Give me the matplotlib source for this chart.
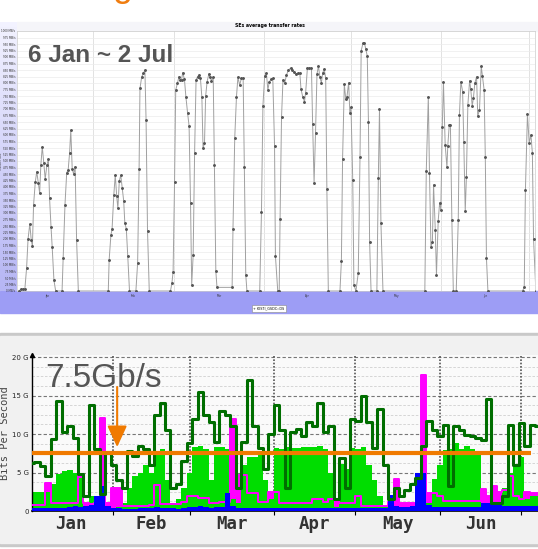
import numpy as np
import matplotlib.pyplot as plt
from matplotlib.patches import Rectangle
from matplotlib.colors import LinearSegmentedColormap

# ── top chart: SE average transfer rate (MB/s) vs day of year ────────────────
se_day = [5.7, 6.3, 7.0, 7.7, 8.3, 8.8, 9.4, 9.9, 10.3, 10.7, 11.3, 11.8, 12.3, 12.8, 13.2, 13.7,
          14.2, 14.7, 15.3, 15.8, 16.2, 16.7, 17.1, 17.7, 18.3, 20.5, 20.9, 21.5, 22.1, 22.6,
          23.1, 23.5, 24.0, 24.5, 25.0, 25.5, 26.1,
          36.4, 36.7, 37.3, 37.7, 38.3, 38.8, 39.3, 39.7, 40.2, 40.7, 41.2, 41.7, 42.1, 42.6, 43.1, 43.7,
          45.9, 46.5, 47.0, 47.3, 47.9, 48.5, 49.0, 49.4, 49.9, 50.5,
          57.8, 58.3, 58.7, 59.2, 59.6, 60.2, 60.7, 61.1, 61.6, 62.0, 62.6, 63.1, 63.7, 64.2, 64.7,
          65.1, 65.6, 66.1, 66.6, 67.1, 67.6, 68.1, 68.6, 69.0, 69.5, 69.9, 70.4, 71.0, 71.4, 71.9,
          72.5, 72.9, 73.4, 73.8, 79.0, 79.3, 79.9, 80.5, 81.0, 81.6, 82.2, 82.8, 83.2, 83.7, 84.1,
          88.5, 89.1, 89.6, 90.2, 90.8, 91.3, 91.8, 92.4, 93.0, 93.6, 93.9, 94.7, 95.2,
          95.5, 96.0, 96.5, 97.1, 97.7, 98.4, 99.1, 99.7, 100.4, 101.0,
          101.7, 102.3, 102.7, 103.3, 103.9, 104.3, 104.9, 105.6, 106.3, 106.7,
          107.2, 107.7, 108.2, 108.7, 109.2, 109.7, 110.2, 110.7, 111.2, 111.6, 112.1,
          116.1, 116.6, 117.0, 117.6, 118.1, 118.5, 119.1, 119.5, 119.9, 120.5, 120.9, 121.6,
          122.4, 123.0, 123.4, 124.0, 124.5, 125.0, 125.5, 125.9, 126.3, 126.8,
          128.8, 129.3, 129.7, 130.2, 130.9,
          145.3, 145.8, 146.5, 146.9, 147.4, 147.9, 148.3, 148.9, 149.3, 149.9,
          150.4, 150.8, 151.3, 151.7, 152.3, 152.9, 153.2, 153.7, 154.1, 154.6,
          155.1, 156.1, 156.8, 157.2, 157.7, 158.3, 158.7, 159.2, 159.6, 160.1,
          160.7, 161.1, 161.6, 162.0, 162.5, 163.1, 163.5, 164.1, 164.7, 165.1,
          165.7, 166.1, 166.5, 167.0,
          178.9, 179.5, 179.9, 180.6, 181.2, 181.8, 182.3, 182.7, 183.5]
se_rate = [0, 7, 7, 7, 88, 200, 258, 196, 173, 331, 420, 459, 417, 377, 485, 555, 493, 431, 485, 507,
           358, 247, 170, 42, 0, 0, 128, 331, 455, 465, 532, 619, 468, 450, 478, 196, 0,
           0, 119, 215, 237, 369, 446, 365, 318, 424, 445, 395, 347, 260, 240, 135, 0,
           0, 108, 468, 779, 824, 837, 850, 658, 232, 0,
           0, 31, 74, 420, 773, 799, 824, 812, 812, 840, 814, 747, 683, 635, 337, 23, 138, 532, 812, 824,
           831, 818, 745, 549, 568, 750, 805, 835, 822, 809, 822, 485, 76, 14,
           14, 238, 587, 747, 822, 792, 818, 818, 478, 62, 0,
           0, 305, 712, 827, 837, 773, 805, 814, 818, 558, 135, 0, 0,
           276, 668, 812, 799, 831, 850, 857, 850, 843, 835,
           838, 837, 776, 747, 728, 763, 857, 857, 857, 642,
           417, 609, 835, 865, 822, 801, 840, 853, 818, 391, 0,
           0, 117, 507, 796, 737, 747, 801, 686, 706, 427, 23, 0,
           70, 517, 924, 952, 955, 930, 904, 651, 190, 0,
           0, 433, 699, 260, 0,
           0, 463, 747, 455, 170, 188, 409, 235, 62, 270,
           340, 312, 632, 805, 562, 476, 559, 638, 638, 273,
           0, 0, 273, 677, 805, 767, 574, 306, 437, 715,
           809, 776, 712, 741, 799, 824, 673, 696, 865, 827,
           773, 517, 126, 0,
           0, 14, 388, 681, 570, 600, 530, 199, 0]
se_ticks = list(range(0, 1001, 25))

# ── bottom chart: network traffic (Gb/s), one value per 2 days ───────────────
days = list(range(1, 188, 2))
peak = [6.2, 6.3, 5.9, 4.6, 9.3, 14.3, 10.2, 11.0, 9.5, 4.8, 2.0, 13.8, 8.0, 2.2, 7.5, 6.0,
        4.0, 3.0, 7.8, 7.2, 8.5, 8.0, 6.0, 12.5, 14.0, 10.5, 3.0, 3.5, 6.5, 8.8, 12.0, 15.5,
        12.5, 11.5, 9.0, 13.0, 12.5, 11.0, 3.0, 9.0, 17.0, 11.0, 8.2, 5.5,
        10.0, 13.8, 10.5, 3.0, 10.3, 10.6, 9.8, 11.6, 11.0, 14.0, 10.3, 11.0, 1.6, 6.9, 3.0, 12.0,
        11.7, 15.0, 11.5, 8.2, 13.2, 6.0, 1.6, 3.0, 2.0, 2.7, 3.5, 4.3, 8.5, 11.7, 10.5, 9.7,
        11.2, 3.2, 11.0, 10.5, 9.9, 9.7, 9.5, 9.2, 14.6, 1.0, 1.0, 2.0, 11.2, 6.0, 11.4, 8.4,
        11.2, 11.0]
avg = [2.5, 2.5, 2.5, 2.5, 3.5, 4.8, 5.2, 5.3, 5.0, 4.3, 0.3, 2.0, 0.5, 0.3, 0.5, 0.3,
       0.5, 1.0, 3.0, 4.5, 5.0, 6.0, 5.0, 7.5, 8.0, 4.0, 1.0, 1.5, 3.0, 5.0, 8.3, 8.5,
       8.0, 4.0, 8.3, 8.3, 8.0, 1.5, 1.0, 6.0, 7.0, 7.0, 7.5, 4.0,
       1.5, 8.2, 8.0, 8.3, 8.2, 8.2, 8.3, 8.3, 8.3, 8.5, 8.0, 5.0, 0.5, 6.1, 5.5, 8.2,
       8.0, 8.3, 6.0, 4.0, 2.0, 0.5, 0.2, 0.2, 0.2, 0.2, 0.2, 0.2, 2.0, 1.0, 4.2, 6.0,
       7.9, 8.0, 8.8, 8.0, 8.5, 8.0, 7.5, 0.3, 0.3, 0.3, 0.3, 3.0, 5.0, 6.0, 7.0, 1.5,
       2.0, 2.0]
other = [0.8, 0.8, 0.8, 3.6, 1.0, 1.0, 1.0, 1.0, 1.0, 4.7, 1.0, 0.9, 1.0, 12.1, 1.0, 3.0,
         3.0, 0.6, 0.6, 0.6, 0.6, 0.6, 0.8, 3.4, 0.9, 0.9, 0.9, 0.9, 1.2, 1.9, 1.9, 1.7,
         1.7, 1.0, 1.0, 1.2, 1.2, 11.9, 4.7, 4.7, 2.3, 2.3, 1.2, 1.2,
         2.5, 2.5, 1.0, 1.0, 1.0, 1.0, 1.0, 1.0, 1.6, 1.6, 1.2, 1.6, 1.6, 1.0, 1.0, 1.0,
         1.9, 0.6, 0.6, 0.6, 0.6, 0.6, 1.2, 4.2, 1.0, 1.0, 1.0, 1.0, 17.7, 2.3, 2.3, 2.0,
         1.3, 1.3, 1.3, 1.3, 1.3, 1.3, 1.3, 2.9, 2.0, 3.2, 2.5, 2.7, 4.5, 2.0, 1.5, 2.5,
         2.3, 2.3]
blue = [0.4, 0.4, 0.4, 0.4, 0.4, 0.4, 0.4, 0.5, 0.6, 0.5, 0.6, 0.8, 2.0, 3.2, 0.6, 0.4,
        0.4, 0.3, 0.3, 0.3, 0.4, 0.4, 0.4, 0.5, 0.4, 0.4, 0.4, 0.3, 0.4, 0.5, 0.5, 0.6,
        0.5, 0.4, 0.5, 0.5, 2.3, 0.6, 0.4, 0.4, 0.4, 0.4, 0.4, 0.4,
        0.4, 0.4, 0.4, 0.4, 0.4, 0.4, 0.4, 0.4, 0.4, 0.4, 0.4, 0.4, 0.4, 0.4, 0.4, 0.4,
        0.4, 0.4, 0.4, 0.4, 0.4, 0.4, 2.1, 0.6, 0.5, 0.5, 0.6, 5.0, 5.0, 0.8, 0.5, 0.5,
        0.5, 0.5, 0.5, 0.5, 0.5, 0.5, 0.5, 1.0, 1.0, 1.0, 1.0, 0.6, 0.6, 0.6, 0.6, 0.6,
        0.6, 0.6]

months = ['Jan', 'Feb', 'Mar', 'Apr', 'May', 'Jun']
month_start = [31, 59, 90, 120, 151, 181]
month_mid = [15.5, 45, 74.5, 105, 135.5, 166]
gbps_ticks = [0, 5, 10, 15, 20]
gbps_labels = ['0', '5 G', '10 G', '15 G', '20 G']
capacity = 7.5

W, H = 538, 549
fig = plt.figure(figsize=(W / 100, H / 100), dpi=100)


def fx(px):
    return px / W


def fy(py):
    return 1 - py / H


def backdrop(x0, y0, x1, y1, color):
    # panel background in pixel coords, drawn underneath every axes
    fig.patches.append(Rectangle((fx(x0), fy(y1)), fx(x1 - x0), (y1 - y0) / H,
                                 transform=fig.transFigure, color=color, zorder=-5))


# orange title descender peeking in at the very top
fig.text(fx(122), fy(-4.5), 'g', fontsize=26, color='#f07d10',
         ha='center', va='baseline', family='Liberation Sans')

# ── top panel ─────────────────────────────────────────────────────────────────
backdrop(17, 22, 538, 31, '#f5f5f9')
backdrop(0, 291, 538, 313, '#9d9df5')
ax_bg = fig.add_axes([0, fy(291), fx(17), (291 - 22) / H], zorder=-4)
grad = LinearSegmentedColormap.from_list('lav', ['#f2f2ff', '#b6b6f4'])
ax_bg.imshow(np.linspace(0, 1, 50).reshape(-1, 1), aspect='auto', cmap=grad)
ax_bg.axis('off')

ax1 = fig.add_axes([fx(17), fy(291), fx(518), (291 - 31) / H])
ax1.set_facecolor('white')
ax1.plot(se_day, se_rate, color='#a0a0a0', lw=0.7, marker='o', ms=1.1,
         mfc='#555555', mec='#555555', zorder=3)
ax1.set_xlim(5, 183.2)
ax1.set_ylim(0, 1000)
ax1.set_yticks(se_ticks)
ax1.set_yticklabels([f'{v} MB/s' for v in se_ticks])
ax1.set_xticks(month_mid)
ax1.set_xticklabels(months)
ax1.tick_params(labelsize=2.0, length=0, pad=1.2, colors='#333333')
ax1.tick_params(axis='x', pad=2)
ax1.grid(axis='y', color='#ececec', lw=0.5)
for m in month_start:
    ax1.axvline(m, color='#dddddd', lw=0.6, zorder=1)
for s in ax1.spines.values():
    s.set_color('#cccccc')
    s.set_linewidth(0.5)

fig.text(fx(270), fy(25.5), 'SEs average transfer rates', fontsize=3.3,
         fontweight='bold', ha='center', va='center')
fig.text(fx(1.2), fy(161), 'Transfer rate', rotation=90, fontsize=2.0,
         ha='center', va='center', color='#333333')
fig.text(fx(269), fy(308.5), '+ KISTI_GSDC::DS', fontsize=2.4, ha='center', va='center',
         bbox=dict(facecolor='white', edgecolor='#888888', lw=0.4, pad=0.8))
fig.text(fx(28), fy(56), '6 Jan ~ 2 Jul', fontsize=17.5, fontweight='bold',
         color='#555555', va='center', ha='left', family='Liberation Sans')

# ── bottom panel ──────────────────────────────────────────────────────────────
backdrop(0, 333, 538, 546, '#c9c9c9')
backdrop(0, 336, 538, 543, '#f1f1f1')

ax2 = fig.add_axes([fx(32), fy(511), 1 - fx(32), (511 - 355) / H])
ax2.set_facecolor('#fafafa')
ax2.set_xlim(1.1, 187.1)
ax2.set_ylim(0, 20.26)

for v in np.arange(1.25, 20, 1.25):
    if v % 5:
        ax2.axhline(v, color='#cfcfcf', lw=0.6, ls=(0, (3, 2)), zorder=0.5)
for v in gbps_ticks[1:]:
    ax2.axhline(v, color='#777777', lw=0.8, ls=(0, (3, 2)), zorder=0.6)
for m in month_start:
    ax2.axvline(m, color='#555555', lw=1.2, ls=(0, (1, 1)), zorder=0.6)

ax2.fill_between(days, other, step='mid', color='#ff00ff', lw=0, zorder=1)
ax2.fill_between(days, avg, step='mid', color='#00dd00', lw=0, zorder=2)
ax2.step(days, other, where='mid', color='#ff00ff', lw=1.4, zorder=3)
ax2.fill_between(days, blue, step='mid', color='#0000ff', lw=0, zorder=4)
ax2.step(days, peak, where='mid', color='#006e00', lw=2.2, zorder=5)

ax2.plot([1.1, 184.6], [capacity, capacity], color='#f07a00', lw=3,
         solid_capstyle='butt', zorder=8)
ax2.annotate('', xy=(32.4, 8.3), xytext=(32.4, 16.1),
             arrowprops=dict(arrowstyle='-|>,head_width=0.6,head_length=1.3',
                             color='#f07a00', lw=1.5, shrinkA=0, shrinkB=0), zorder=9)
fig.text(fx(45), fy(387), '7.5Gb/s', fontsize=24, color='#555555',
         family='Liberation Sans', ha='left', va='baseline')

for s in ['top', 'right']:
    ax2.spines[s].set_visible(False)
ax2.spines['left'].set_linewidth(1)
ax2.spines['bottom'].set_linewidth(1.2)
ax2.plot([1.1], [20.26], marker='^', ms=3, color='black', clip_on=False, zorder=10)

ax2.set_yticks(gbps_ticks)
ax2.set_yticklabels(gbps_labels)
ax2.tick_params(axis='y', labelsize=5, length=0, pad=2.5, colors='#222222')
ax2.set_xticks(month_mid)
ax2.set_xticklabels(months, family='DejaVu Sans Mono', fontweight='bold', fontsize=12.5)
ax2.tick_params(axis='x', length=0, pad=3, colors='#333333')
ax2.set_xticks(month_start, minor=True)
ax2.tick_params(axis='x', which='minor', length=3, width=0.8)

fig.text(fx(5.5), fy(433), 'Bits Per Second', rotation=90, family='DejaVu Sans Mono',
         fontsize=7.5, ha='center', va='center', color='#444444')

fig.savefig('out.png', dpi=100)
